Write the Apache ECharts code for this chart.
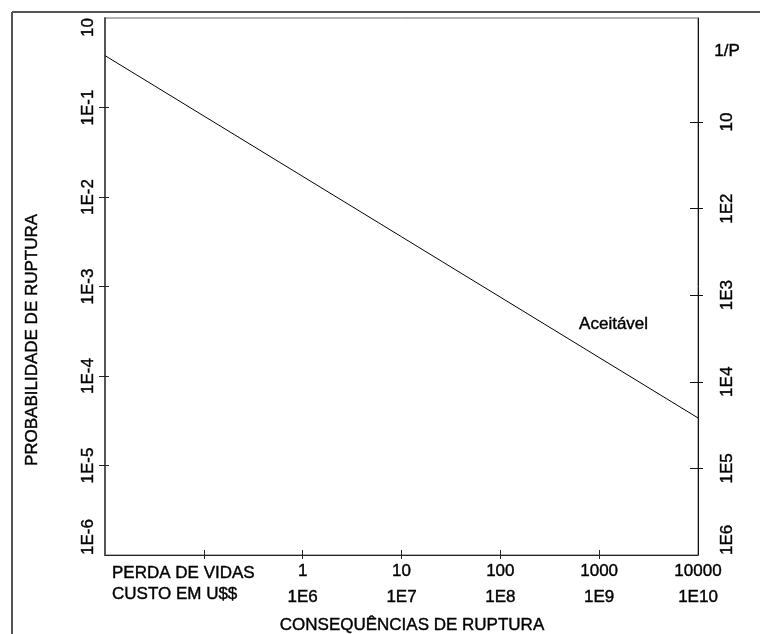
<!DOCTYPE html>
<html>
<head>
<meta charset="utf-8">
<script src="https://cdn.jsdelivr.net/npm/echarts@6/dist/echarts.min.js"></script>
<style>
  html, body { margin: 0; padding: 0; background: #fff; }
  #chart { width: 760px; height: 634px; }
</style>
</head>
<body>
<div id="chart"></div>
<script>
// Eixo X: perda de vidas (e custo equivalente em U$$)
const xLabelValues = [0.01, 1, 10, 100, 1000, 10000];
const livesLabels = ['PERDA DE VIDAS', '1', '10', '100', '1000', '10000'];
const costLabels = ['CUSTO EM U$$', '1E6', '1E7', '1E8', '1E9', '1E10'];
const xTickValues = [0.1, 1, 10, 100, 1000];

// Eixo Y esquerdo: probabilidade de ruptura
const probLabelValues = [1e-6, 1e-5, 1e-4, 1e-3, 1e-2, 1e-1, 1];
const probLabels = ['1E-6', '1E-5', '1E-4', '1E-3', '1E-2', '1E-1', '10'];
const probTickValues = [1e-5, 1e-4, 1e-3, 1e-2, 1e-1];

// Eixo Y direito: 1/P
const invLabelValues = [10, 1e2, 1e3, 1e4, 1e5, 1e6];
const invLabels = ['10', '1E2', '1E3', '1E4', '1E5', '1E6'];
const invTickValues = [10, 1e2, 1e3, 1e4, 1e5];

// Linha de risco aceitável
const lineLives = [0.01, 10000];
const lineProb = [0.38, 3.4e-5];
const noteLives = [1400];
const noteProb = [3.8e-4];
const noteText = 'Aceitável';

const FONT = "'Liberation Sans', Arial, sans-serif";
const INK = { textBorderColor: '#000', textBorderWidth: 0.4 };
const lg = Math.log10;

function pick(values, labels) {
    const exps = values.map(lg);
    return (v) => {
        const i = exps.findIndex((e) => Math.abs(e - v) < 1e-9);
        return i < 0 ? '' : labels[i];
    };
}

const probLabel = pick(probLabelValues, probLabels);
const invLabel = pick(invLabelValues, invLabels);
const livesLabel = pick(xLabelValues, livesLabels);
const costLabel = pick(xLabelValues, costLabels);

const xMin = lg(0.01), xMax = lg(10000);
const yMin = lg(1e-6), yMax = lg(1);

// eixo "fantasma" so para desenhar os tracos para dentro (ticks cruzando o eixo)
function tickAxis(base, values, len, color) {
    return Object.assign({}, base, {
        axisLine: { show: false, onZero: false },
        axisLabel: { show: false },
        splitLine: { show: false },
        axisTick: { show: true, inside: true, length: len, customValues: values.map(lg),
            lineStyle: { color: color, width: 1 } }
    });
}

const xBase = { type: 'value', position: 'bottom', min: xMin, max: xMax };
const yLeftBase = { type: 'value', position: 'left', min: yMin, max: yMax };
const yRightBase = { type: 'value', position: 'right', min: -0.2, max: 6, inverse: true };

const option = {
    animation: false,
    backgroundColor: '#fff',
    textStyle: { fontFamily: FONT },
    grid: { left: 105, right: 62, top: 18, bottom: 79, show: true,
        borderColor: '#666', borderWidth: 1, backgroundColor: 'transparent' },
    xAxis: [
        Object.assign({}, xBase, {
            axisLine: { onZero: false, lineStyle: { color: '#222', width: 1 } },
            splitLine: { show: false },
            axisTick: { inside: false, length: 4, customValues: xTickValues.map(lg),
                lineStyle: { color: '#222' } },
            axisLabel: {
                customValues: xLabelValues.map(lg),
                margin: 3,
                color: '#000',
                fontFamily: FONT,
                fontSize: 17,
                alignMinLabel: 'left',
                formatter: (v) => {
                    if (Math.abs(v - xMin) < 1e-9) {
                        return '{s| }\n{p|' + livesLabel(v) + '}\n{p|' + costLabel(v) + '}';
                    }
                    return '{n|' + livesLabel(v) + '}\n{n|' + costLabel(v) + '}';
                },
                rich: {
                    n: Object.assign({ fontSize: 17, lineHeight: 26, fontFamily: FONT, color: '#000' }, INK),
                    p: Object.assign({ fontSize: 17, lineHeight: 21, fontFamily: FONT, color: '#000',
                        padding: [0, 0, 0, 7] }, INK),
                    s: { fontSize: 4, lineHeight: 5 }
                }
            }
        }),
        tickAxis(xBase, xTickValues, 5, '#222')
    ],
    yAxis: [
        Object.assign({}, yLeftBase, {
            axisLine: { onZero: false, lineStyle: { color: '#555', width: 2 } },
            splitLine: { show: false },
            axisTick: { inside: false, length: 6, customValues: probTickValues.map(lg),
                lineStyle: { color: '#222' } },
            axisLabel: Object.assign({
                customValues: probLabelValues.map(lg),
                rotate: 90,
                margin: 8,
                color: '#000',
                fontFamily: FONT,
                fontSize: 17,
                alignMinLabel: 'left',
                alignMaxLabel: 'right',
                formatter: probLabel
            }, INK)
        }),
        tickAxis(yLeftBase, probTickValues, 4, '#222'),
        Object.assign({}, yRightBase, {
            axisLine: { onZero: false, lineStyle: { color: '#111', width: 1 } },
            splitLine: { show: false },
            axisTick: { inside: false, length: 5, customValues: invTickValues.map(lg),
                lineStyle: { color: '#111' } },
            axisLabel: Object.assign({
                customValues: invLabelValues.map(lg),
                rotate: 90,
                margin: 21,
                color: '#000',
                fontFamily: FONT,
                fontSize: 17,
                alignMaxLabel: 'left',
                formatter: invLabel
            }, INK)
        }),
        tickAxis(yRightBase, invTickValues, 8, '#111')
    ],
    series: [{
        type: 'line',
        xAxisIndex: 0,
        yAxisIndex: 0,
        data: lineLives.map((x, i) => [lg(x), lg(lineProb[i])]),
        showSymbol: false,
        symbol: 'none',
        lineStyle: { color: '#000', width: 1 },
        markPoint: {
            symbol: 'circle',
            symbolSize: 0,
            label: Object.assign({ show: true, position: 'inside', formatter: noteText,
                color: '#000', fontFamily: FONT, fontSize: 17 }, INK),
            data: noteLives.map((x, i) => ({ coord: [lg(x), lg(noteProb[i])] }))
        }
    }],
    graphic: [
        { type: 'line', z: 100, shape: { x1: 12, y1: 12, x2: 760, y2: 12 },
          style: { stroke: '#555', lineWidth: 2 } },
        { type: 'line', z: 100, shape: { x1: 12, y1: 12, x2: 12, y2: 634 },
          style: { stroke: '#555', lineWidth: 2 } },
        { type: 'text', x: 32, y: 340, rotation: Math.PI / 2,
          style: Object.assign({ text: 'PROBABILIDADE DE RUPTURA', align: 'center', verticalAlign: 'middle',
              font: '17px ' + FONT, fill: '#000', stroke: '#000', lineWidth: 0.4 }) },
        { type: 'text', x: 412, y: 625,
          style: { text: 'CONSEQUÊNCIAS DE RUPTURA', align: 'center', verticalAlign: 'middle',
              font: '17px ' + FONT, fill: '#000', stroke: '#000', lineWidth: 0.4 } },
        { type: 'text', x: 727, y: 51,
          style: { text: '1/P', align: 'center', verticalAlign: 'middle',
              font: '17px ' + FONT, fill: '#000', stroke: '#000', lineWidth: 0.4 } }
    ]
};

const chart = echarts.init(document.getElementById('chart'));
chart.setOption(option);
</script>
</body>
</html>
